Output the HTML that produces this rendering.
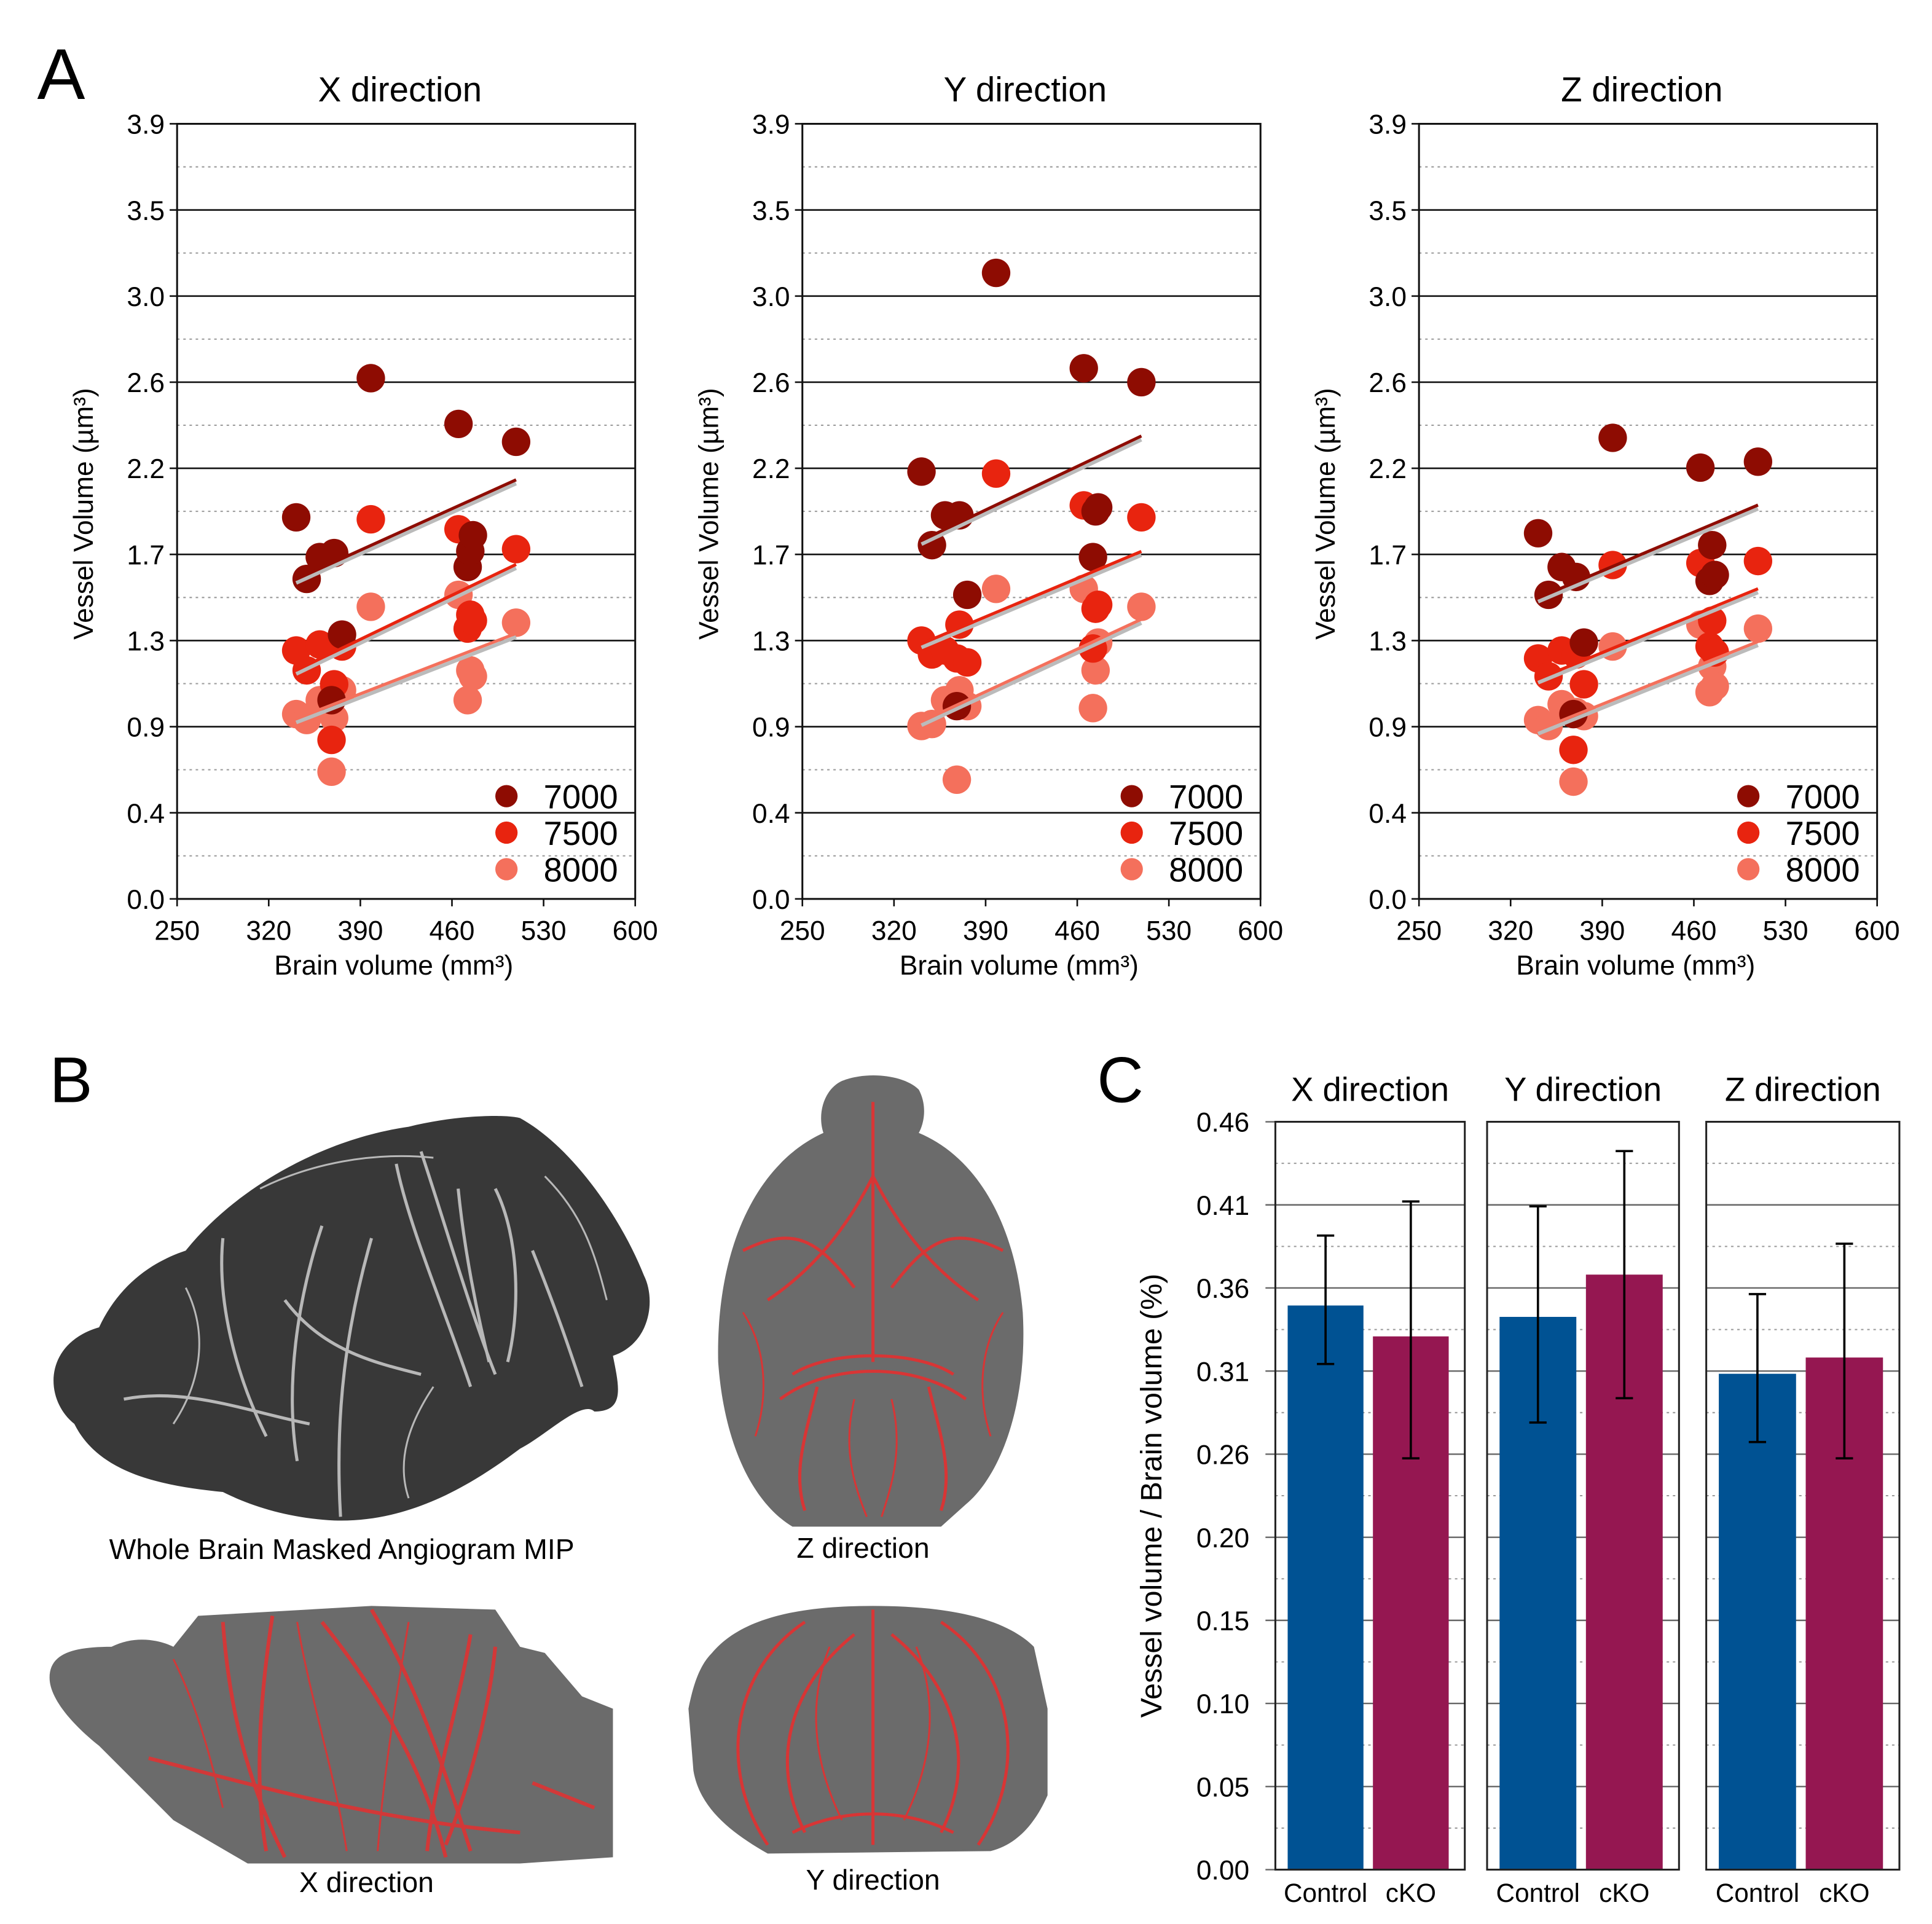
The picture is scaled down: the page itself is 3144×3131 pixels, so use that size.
<!DOCTYPE html>
<html><head><meta charset="utf-8"><style>
html,body{margin:0;padding:0;background:#fff;}
svg{display:block;font-family:"Liberation Sans",Arial,sans-serif;}
</style></head><body>
<svg id="fig" width="3144" height="3131" viewBox="0 0 1560.3 1553.9" xmlns="http://www.w3.org/2000/svg">
<rect width="1560.3" height="1553.9" fill="#fff"/>
<text x="30" y="80" font-size="58">A</text>
<text x="40" y="890" font-size="52">B</text>
<text x="886" y="890" font-size="52">C</text>
<g id="panelA"></g>
<g id="panelB">
  <g>
    <path d="M60,1150 C35,1130 35,1085 80,1072 C95,1040 120,1020 150,1010 C190,960 260,920 330,910 C370,900 410,900 420,903 C460,925 500,980 520,1030 C530,1050 525,1085 495,1095 C500,1120 505,1140 480,1140 C470,1130 440,1160 420,1170 C380,1200 330,1230 270,1228 C230,1226 200,1215 180,1205 C130,1200 80,1190 60,1150 Z" fill="#383838"/>
    <g stroke="#cfcfcf" stroke-width="2.5" fill="none" opacity="0.85">
      <path d="M320,940 C330,990 360,1060 380,1120"/><path d="M340,930 C360,990 380,1060 400,1110"/>
      <path d="M370,960 C375,1010 385,1060 395,1100"/><path d="M260,990 C240,1050 230,1120 240,1180"/>
      <path d="M180,1000 C175,1050 190,1110 215,1160"/><path d="M300,1000 C280,1070 270,1140 275,1225"/>
      <path d="M100,1130 C150,1120 200,1140 250,1150"/><path d="M400,960 C420,1000 420,1060 410,1100"/>
      <path d="M230,1050 C260,1090 300,1100 340,1110"/><path d="M430,1010 C450,1060 460,1090 470,1120"/>
      <path d="M210,960 C250,940 300,930 350,935" stroke-width="1.5"/><path d="M150,1040 C170,1080 160,1120 140,1150" stroke-width="1.5"/>
      <path d="M350,1120 C330,1150 320,1180 330,1210" stroke-width="1.5"/><path d="M440,950 C470,980 480,1010 490,1050" stroke-width="1.5"/>
    </g>
  </g>
  <text x="276" y="1259" font-size="23" text-anchor="middle">Whole Brain Masked Angiogram MIP</text>
  <g>
    <path d="M680,873 C700,865 730,868 742,880 C750,895 745,910 742,915 C790,935 820,990 826,1060 C830,1130 810,1190 780,1215 L760,1233 L640,1233 C610,1215 585,1170 580,1100 C578,1010 610,940 665,915 C660,900 665,880 680,873 Z" fill="#6b6b6b"/>
    <g stroke="#e43030" stroke-width="2.5" fill="none" opacity="0.9">
      <path d="M705,890 L705,1100"/><path d="M705,950 C680,1000 650,1030 620,1050"/><path d="M705,950 C730,1000 760,1030 790,1050"/>
      <path d="M640,1110 C670,1090 740,1090 770,1110"/><path d="M630,1130 C670,1100 740,1100 780,1130"/>
      <path d="M660,1120 C650,1160 640,1190 650,1220"/><path d="M750,1120 C760,1160 770,1190 760,1220"/>
      <path d="M600,1010 C640,990 660,1000 690,1040"/><path d="M810,1010 C770,990 750,1000 720,1040"/>
      <path d="M600,1060 C620,1090 620,1130 610,1160" stroke-width="1.5"/><path d="M810,1060 C790,1090 790,1130 800,1160" stroke-width="1.5"/>
      <path d="M690,1130 C680,1170 690,1200 700,1225" stroke-width="1.5"/><path d="M720,1130 C730,1170 720,1200 712,1225" stroke-width="1.5"/>
    </g>
  </g>
  <text x="697" y="1258" font-size="23" text-anchor="middle">Z direction</text>
  <g>
    <path d="M40,1355 C40,1335 60,1330 90,1330 C110,1320 130,1325 140,1330 L160,1305 L300,1297 L400,1300 L420,1330 L440,1335 L470,1370 L495,1380 L495,1500 L420,1505 L200,1505 L140,1470 L80,1410 C55,1390 40,1370 40,1355 Z" fill="#6b6b6b"/>
    <g stroke="#e43030" stroke-width="3" fill="none" opacity="0.85">
      <path d="M180,1310 C185,1380 200,1440 230,1500"/><path d="M220,1305 C210,1370 205,1440 215,1495"/>
      <path d="M260,1310 C300,1360 340,1420 360,1500"/><path d="M300,1300 C330,1350 350,1400 380,1495"/>
      <path d="M380,1320 C370,1380 350,1440 345,1495"/><path d="M400,1330 C395,1380 380,1440 360,1490"/>
      <path d="M120,1420 C200,1440 300,1470 420,1480"/><path d="M430,1440 L480,1460"/>
      <path d="M240,1310 C250,1370 270,1430 280,1495" stroke-width="1.5"/><path d="M330,1310 C320,1370 310,1430 305,1495" stroke-width="1.5"/>
      <path d="M140,1340 C160,1380 170,1420 180,1460" stroke-width="1.5"/>
    </g>
  </g>
  <text x="296" y="1528" font-size="23" text-anchor="middle">X direction</text>
  <g>
    <path d="M575,1335 C600,1305 650,1297 705,1297 C760,1297 810,1305 835,1330 L846,1380 L846,1450 C835,1475 820,1490 800,1495 L620,1497 C590,1480 565,1460 560,1430 L556,1380 C560,1360 565,1345 575,1335 Z" fill="#6b6b6b"/>
    <g stroke="#e43030" stroke-width="2.5" fill="none" opacity="0.9">
      <path d="M705,1300 L705,1490"/><path d="M690,1320 C640,1360 620,1420 650,1480"/><path d="M720,1320 C770,1360 790,1420 760,1480"/>
      <path d="M650,1310 C590,1350 580,1430 620,1490"/><path d="M760,1310 C820,1350 830,1430 790,1490"/>
      <path d="M640,1480 C680,1460 730,1460 770,1480"/>
      <path d="M670,1330 C650,1380 660,1430 680,1470" stroke-width="1.5"/><path d="M740,1330 C760,1380 750,1430 730,1470" stroke-width="1.5"/>
    </g>
  </g>
  <text x="705" y="1526" font-size="23" text-anchor="middle">Y direction</text>
</g>
<g id="panelC"></g>
</svg>
<script>
// ---------- Panel A data ----------
const brainVolume = [341, 349, 359, 370, 368, 376, 398, 465, 472, 474, 476, 509];
const seriesNames = ["7000", "7500", "8000"];
const xDir7000 = [1.92, 1.61, 1.72, 1.74, 1.00, 1.33, 2.62, 2.39, 1.67, 1.75, 1.83, 2.30];
const xDir7500 = [1.25, 1.15, 1.28, 1.08, 0.80, 1.27, 1.91, 1.86, 1.36, 1.43, 1.40, 1.76];
const xDir8000 = [0.93, 0.90, 1.00, 0.91, 0.64, 1.05, 1.47, 1.53, 1.00, 1.15, 1.12, 1.39];
const yDir7000 = [2.15, 1.78, 1.93, 1.93, 0.97, 1.53, 3.15, 2.67, 1.72, 1.95, 1.97, 2.60];
const yDir7500 = [1.30, 1.23, 1.25, 1.38, 1.21, 1.19, 2.14, 1.98, 1.26, 1.46, 1.48, 1.92];
const yDir8000 = [0.87, 0.88, 1.00, 1.05, 0.60, 0.97, 1.56, 1.56, 0.96, 1.15, 1.29, 1.47];
const zDir7000 = [1.84, 1.53, 1.67, 1.62, 0.93, 1.29, 2.32, 2.17, 1.60, 1.78, 1.63, 2.20];
const zDir7500 = [1.21, 1.12, 1.25, 1.23, 0.75, 1.08, 1.68, 1.69, 1.27, 1.40, 1.24, 1.70];
const zDir8000 = [0.90, 0.87, 0.98, 0.94, 0.59, 0.92, 1.27, 1.38, 1.04, 1.17, 1.07, 1.36];
const yTickLabelsA = ["0.0","0.4","0.9","1.3","1.7","2.2","2.6","3.0","3.5","3.9"];
const xTickLabelsA = ["250","320","390","460","530","600"];
// ---------- Panel C data ----------
const groups = ["Control", "cKO"];
const directions = ["X direction", "Y direction", "Z direction"];
const controlMean = [0.347, 0.340, 0.305];
const cKOMean = [0.328, 0.366, 0.315];
const controlLow = [0.311, 0.275, 0.263];
const controlHigh = [0.390, 0.408, 0.354];
const cKOLow = [0.253, 0.290, 0.253];
const cKOHigh = [0.411, 0.442, 0.385];
const yTickLabelsC = ["0.00","0.05","0.10","0.15","0.20","0.26","0.31","0.36","0.41","0.46"];

const NS = "http://www.w3.org/2000/svg";
function mk(tag, attrs, parent){const e=document.createElementNS(NS,tag);for(const k in attrs)e.setAttribute(k,attrs[k]);parent.appendChild(e);return e;}

const colors = ["#8e0c02", "#e8240f", "#f4705c"];
const panelA = document.getElementById("panelA");
const plots = [
  {title:"X direction", x0:143, data:[xDir7000,xDir7500,xDir8000]},
  {title:"Y direction", x0:648, data:[yDir7000,yDir7500,yDir8000]},
  {title:"Z direction", x0:1146, data:[zDir7000,zDir7500,zDir8000]}
];
const yTop=100, yBot=726, W=370;
plots.forEach((p,pi)=>{
  const g = mk("g",{},panelA);
  
  
  const xs = v => p.x0 + (v-250)/350*W;
  const ys = v => yBot - v/3.9*(yBot-yTop);
  for(let i=0;i<=18;i++){
    const v = 3.9*i/18, y=ys(v);
    if(i%2===0){
      const l=mk("line",{x1:p.x0-6,x2:p.x0+W,y1:y,y2:y,stroke:"#111","stroke-width":1.3},g);
      
      
      const t=mk("text",{x:p.x0-10,y:y+8,"font-size":22,"text-anchor":"end"},g);
      t.textContent=yTickLabelsA[i/2];
      
      
    } else {
      const l=mk("line",{x1:p.x0,x2:p.x0+W,y1:y,y2:y,stroke:"#999","stroke-width":1,"stroke-dasharray":"2,3"},g);
      
      
    }
  }
  const fr=mk("rect",{x:p.x0,y:yTop,width:W,height:yBot-yTop,fill:"none",stroke:"#111","stroke-width":1.5},g);
  
  
  xTickLabelsA.forEach(lbl=>{
    const x=xs(+lbl);
    mk("line",{x1:x,x2:x,y1:yBot,y2:yBot+6,stroke:"#111","stroke-width":1.3},g);
    const t=mk("text",{x:x,y:yBot+33,"font-size":22,"text-anchor":"middle"},g);
    t.textContent=lbl;
    
    
  });
  const tt=mk("text",{x:p.x0+W/2-5,y:82,"font-size":28,"text-anchor":"middle"},g);
  tt.textContent=p.title;
  
  
  const xt=mk("text",{x:p.x0+W/2-10,y:787,"font-size":22,"text-anchor":"middle"},g);
  xt.textContent="Brain volume (mm³)";
  
  
  const yt=mk("text",{x:0,y:0,"font-size":22,"text-anchor":"middle",transform:`translate(${p.x0-68},415) rotate(-90)`},g);
  yt.textContent="Vessel Volume (µm³)";
  
  
  for(let s=2;s>=0;s--){
    p.data[s].forEach((v,i)=>{
      const c=mk("circle",{cx:xs(brainVolume[i]),cy:ys(v),r:11.5,fill:colors[s]},g);
      
      
    });
  }
  const xmin=Math.min(...brainVolume), xmax=Math.max(...brainVolume);
  p.data.forEach((arr,s)=>{
    const n=arr.length, mx=brainVolume.reduce((a,b)=>a+b)/n, my=arr.reduce((a,b)=>a+b)/n;
    let sxy=0,sxx=0; for(let i=0;i<n;i++){sxy+=(brainVolume[i]-mx)*(arr[i]-my);sxx+=(brainVolume[i]-mx)**2;}
    const b=sxy/sxx, a=my-b*mx;
    mk("line",{x1:xs(xmin),y1:ys(a+b*xmin)+3,x2:xs(xmax),y2:ys(a+b*xmax)+3,stroke:"#bbb","stroke-width":3},g);
    const l=mk("line",{x1:xs(xmin),y1:ys(a+b*xmin),x2:xs(xmax),y2:ys(a+b*xmax),stroke:colors[s],"stroke-width":2.5},g);
    
    
  });
  seriesNames.forEach((nm,s)=>{
    const y=643+s*29.5;
    const c=mk("circle",{cx:p.x0+266,cy:y,r:9,fill:colors[s]},g);
    
    
    const t=mk("text",{x:p.x0+296,y:y+10,"font-size":27},g);
    t.textContent=nm;
    
    
  });
});

const panelC=document.getElementById("panelC");
const cTop=906, cBot=1510;
const frames=[[1030,1183],[1201,1356],[1378,1534]];
const ysC=v=>cBot-v/0.46*(cBot-cTop);
for(let i=0;i<=9;i++){
  const t=mk("text",{x:1009,y:ysC(0.46*i/9)+8,"font-size":22,"text-anchor":"end"},panelC);
  t.textContent=yTickLabelsC[i];
  
  
}
const ytC=mk("text",{x:0,y:0,"font-size":24,"text-anchor":"middle",transform:"translate(938,1208) rotate(-90)"},panelC);
ytC.textContent="Vessel volume / Brain volume (%)";


directions.forEach((d,k)=>{
  const [x0,x1]=frames[k];
  const g=mk("g",{},panelC);
  
  
  for(let i=0;i<=18;i++){
    const y=ysC(0.46*i/18);
    if(i%2===0) mk("line",{x1:k===0?x0-8:x0,x2:x1,y1:y,y2:y,stroke:"#666","stroke-width":1.2},g);
    else mk("line",{x1:x0,x2:x1,y1:y,y2:y,stroke:"#999","stroke-width":1,"stroke-dasharray":"2,3"},g);
  }
  const w=x1-x0, bw=w*0.4;
  const bx=[x0+w*0.065, x0+w*0.515];
  const means=[controlMean[k],cKOMean[k]], lows=[controlLow[k],cKOLow[k]], highs=[controlHigh[k],cKOHigh[k]];
  const bc=["#005293","#951751"];
  for(let j=0;j<2;j++){
    const r=mk("rect",{x:bx[j],y:ysC(means[j]),width:bw,height:cBot-ysC(means[j]),fill:bc[j]},g);
    
    
    const cx=bx[j]+bw/2;
    const eb=mk("path",{d:`M${cx},${ysC(lows[j])}V${ysC(highs[j])}M${cx-7},${ysC(lows[j])}H${cx+7}M${cx-7},${ysC(highs[j])}H${cx+7}`,stroke:"#000","stroke-width":1.8,fill:"none"},g);
    
    
    const t=mk("text",{x:cx,y:1536,"font-size":21,"text-anchor":"middle"},g);
    t.textContent=groups[j];
    
    
  }
  mk("rect",{x:x0,y:cTop,width:w,height:cBot-cTop,fill:"none",stroke:"#222","stroke-width":1.5},g);
  const tt=mk("text",{x:(x0+x1)/2,y:889,"font-size":27,"text-anchor":"middle"},g);
  tt.textContent=d;
  
  
});
</script>
</body></html>
